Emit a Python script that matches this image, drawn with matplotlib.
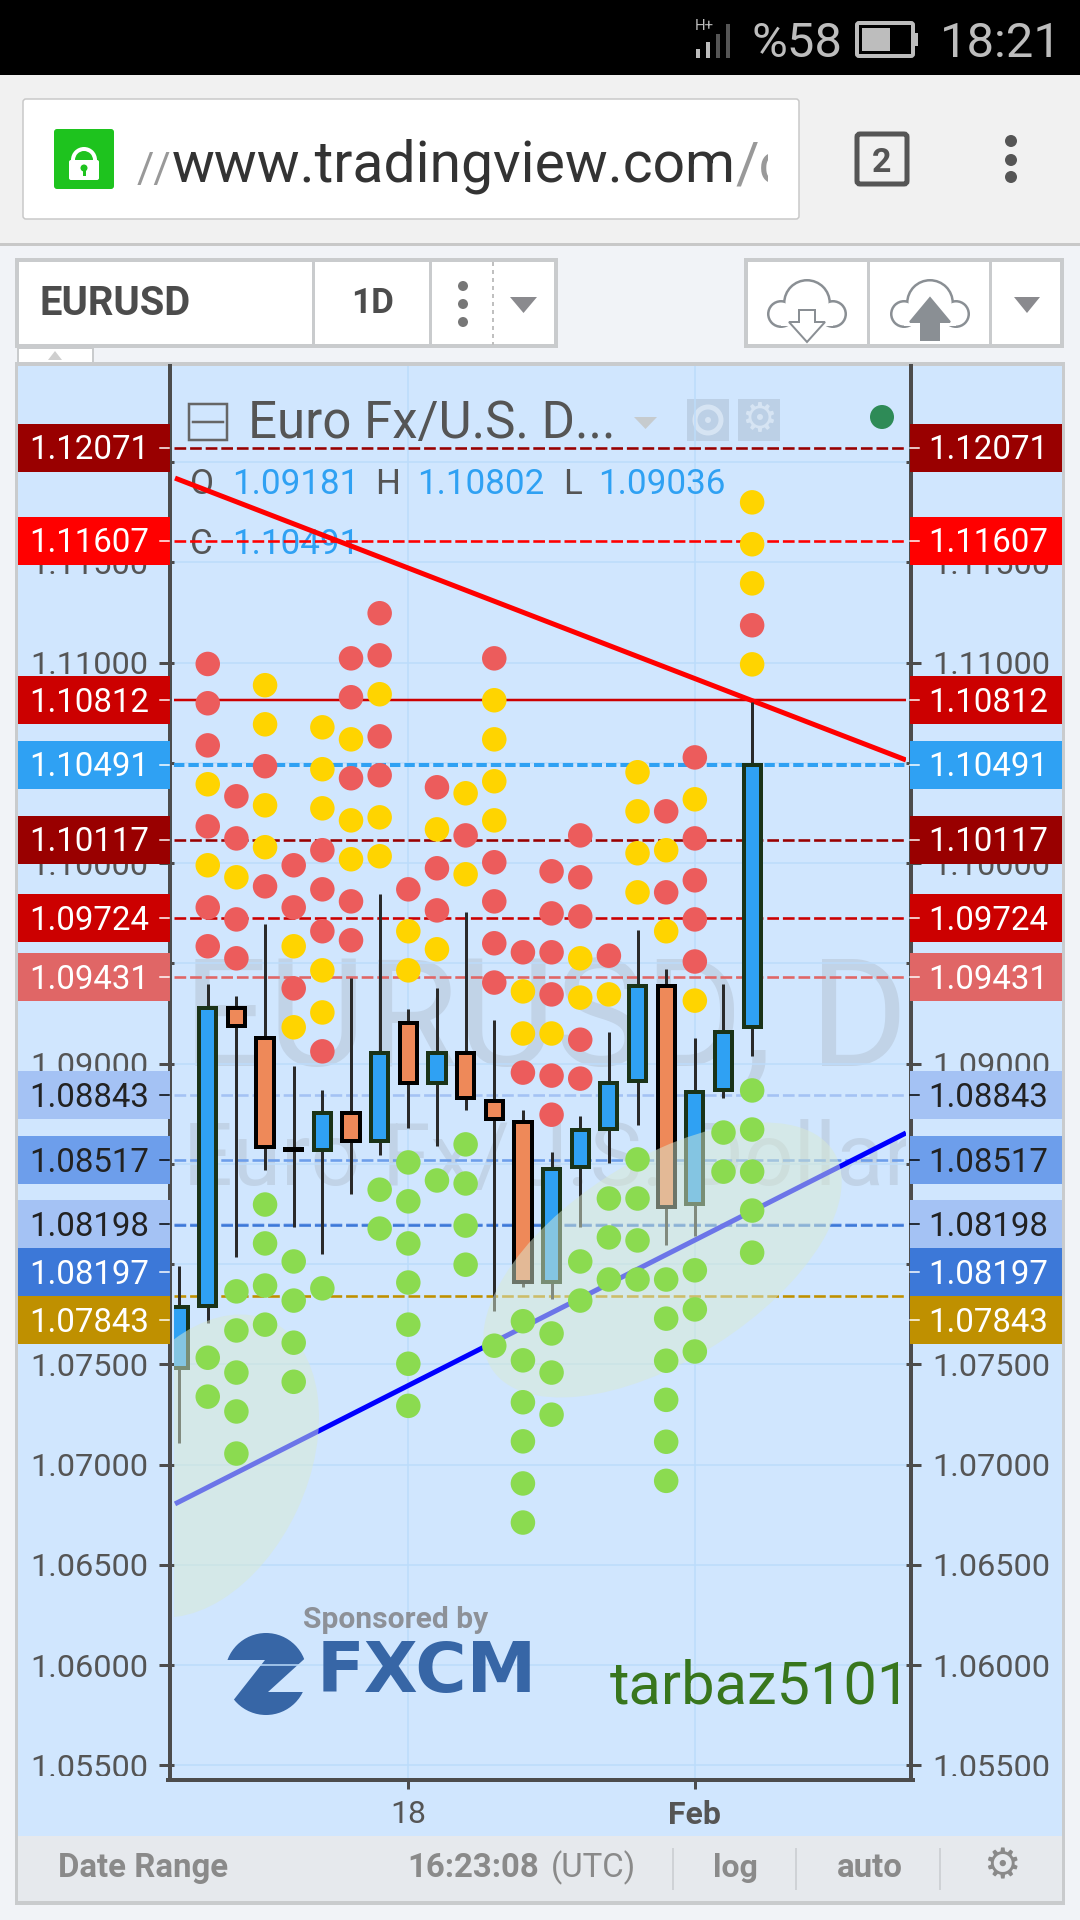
import matplotlib
matplotlib.use("Agg")
import matplotlib.pyplot as plt
from matplotlib.patches import Rectangle, Circle, Ellipse, Polygon, FancyBboxPatch, Wedge
from matplotlib.transforms import Bbox, IdentityTransform

# ---------- chart values ----------
bar_index = list(range(21))
opens  = [1.07482,1.07791,1.09277,1.09127,1.08576,1.08570,1.08755,1.08616,1.09203,1.08903,1.09055,
          1.08812,1.08708,1.07912,1.08483,1.08676,1.08914,1.09385,1.08302,1.08870,1.09181]
highs  = [1.07990,1.09395,1.09337,1.09696,1.08990,1.08870,1.09427,1.09846,1.09274,1.09379,1.09754,
          1.09217,1.08766,1.08559,1.08738,1.09158,1.09666,1.09472,1.09127,1.09395,1.10802]
lows   = [1.07108,1.07706,1.08035,1.08469,1.08185,1.08051,1.08349,1.08544,1.08679,1.08589,1.08768,
          1.07768,1.07887,1.07826,1.08186,1.08502,1.08694,1.08095,1.08140,1.08830,1.09036]
closes = [1.07786,1.09277,1.09185,1.08584,1.08571,1.08755,1.08616,1.09055,1.08903,1.09055,1.08826,
          1.08723,1.07912,1.08472,1.08667,1.08903,1.09385,1.08286,1.08860,1.09159,1.10491]

red_dots = [[],
 [1.10993,1.10797,1.10587,1.10183,1.09779,1.09585],[1.10333,1.10123,1.09719,1.09525],[1.10483,1.09884],
 [1.09989,1.09779,1.09375],[1.10064,1.09869,1.09660,1.09061],[1.11021,1.10827,1.10423,1.09809,1.09615],
 [1.11246,1.11036,1.10632,1.10438],[1.09869],[1.10378,1.09974,1.09764],[1.10138],
 [1.11021,1.10004,1.09809,1.09600,1.09404],[1.09555,1.08955],[1.09959,1.09749,1.09555,1.09345,1.08940,1.08745],
 [1.10138,1.09929,1.09734,1.09119,1.08925],[1.09538],[],[1.10258,1.09854],
 [1.10527,1.10123,1.09914,1.09719,1.09509],[],[1.11186]]
yellow_dots = [[],
 [1.10393,1.09989],[1.09929],[1.10887,1.10692,1.10288,1.10079],[1.09585,1.09181],
 [1.10677,1.10468,1.10273,1.09465,1.09255],[1.10617,1.10213,1.10019],[1.10842,1.10228,1.10034],
 [1.09660,1.09465],[1.10168,1.09570],[1.10348,1.09944],[1.10812,1.10617,1.10408,1.10213],
 [1.09360,1.09150],[1.09150],[1.09525,1.09329],[1.09345],[1.10453,1.10258,1.10049,1.09854],
 [1.10064,1.09660],[1.10318,1.09314],[],[1.11799,1.11590,1.11395,1.10991]]
green_dots = [[],
 [1.07533,1.07339],[1.07864,1.07669,1.07459,1.07265,1.07055],[1.08297,1.08103,1.07893,1.07698],
 [1.08013,1.07818,1.07608,1.07413],[1.07879],[],[1.08371,1.08177],
 [1.08507,1.08313,1.08103,1.07908,1.07698,1.07503,1.07293],[1.08417],[1.08597,1.08402,1.08192,1.07997],
 [1.07593],[1.07715,1.07520,1.07311,1.07116,1.06906,1.06711],[1.07654,1.07459,1.07249],[1.08013,1.07818],
 [1.08327,1.08133,1.07923],[1.08522,1.08327,1.08118,1.07923],[1.07923,1.07728,1.07518,1.07323,1.07114,1.06919],
 [1.07969,1.07774,1.07564],[1.08656,1.08461],[1.08866,1.08671,1.08461,1.08267,1.08057]]

level_prices = [1.12071,1.11607,1.10812,1.10491,1.10117,1.09724,1.09431,1.08843,1.08517,1.08198,1.08197,1.07843]
level_colors = ['#990000','#ff0000','#cc0000','#2fa1f3','#990000','#cc0000','#e06666','#a4c2f4','#6d9eeb','#a4c2f4','#3c78d8','#bf9000']
level_text   = ['white','white','white','white','white','white','white','#222222','#222222','#222222','white','white']

red_trend_x, red_trend_y = [-0.143, 25.37], [1.11920, 1.10514]
blue_trend_x, blue_trend_y = [-0.143, 25.37], [1.06804, 1.08654]

price_ticks = [1.055,1.06,1.065,1.07,1.075,1.08,1.085,1.09,1.095,1.10,1.105,1.11,1.115,1.12]
covered_ticks = [1.08,1.085,1.105,1.12]
date_ticks, date_labels = [8, 18], ['18', 'Feb']

# ---------- helpers ----------
W, H = 1080, 1920
plt.rcParams['font.family'] = ['Roboto', 'DejaVu Sans']
fig = plt.figure(figsize=(10.8, 19.2), dpi=100, facecolor='#f1f3f7')
PT = 0.72
GREY = '#555555'

def px_axes(z):
    a = fig.add_axes([0, 0, 1, 1], zorder=z)
    a.set_xlim(0, W); a.set_ylim(H, 0); a.axis('off')
    return a

back = px_axes(0)
top = px_axes(3)

def rect(a, x0, y0, x1, y1, fc, ec='none', lw=0, z=1):
    a.add_patch(Rectangle((x0, y0), x1-x0, y1-y0, fc=fc, ec=ec, lw=lw*PT, zorder=z))

def rrect(a, x0, y0, x1, y1, fc, ec='none', lw=0, r=4, z=1):
    a.add_patch(FancyBboxPatch((x0+r, y0+r), x1-x0-2*r, y1-y0-2*r, boxstyle=f"round,pad={r}",
                               fc=fc, ec=ec, lw=lw*PT, zorder=z))

def txt(a, x, y, s, px, c=GREY, ha='left', w='normal', z=5, **k):
    return a.text(x, y, s, fontsize=px*PT, color=c, ha=ha, va='baseline', fontweight=w, zorder=z, **k)

# ---------- page chrome ----------
rect(back, 0, 0, W, 75, '#000000')
rect(back, 0, 75, W, 243, '#f1f1f1')
rect(back, 0, 243, W, 246, '#c8c8c8')
txt(back, 751, 57, '%58', 49, '#bdbdbd')
txt(back, 940, 57, '18:21', 49, '#bdbdbd')
txt(back, 695, 30, 'H+', 15, '#bdbdbd')
for i, (x, y0) in enumerate(zip([696, 706, 716, 726], [49, 42, 34, 24])):
    rect(back, x, y0, x+4, 58, '#bdbdbd' if i < 2 else '#555555')
rrect(back, 857, 23, 913, 56, 'none', '#bdbdbd', 4, r=2)
rect(back, 862, 28, 890, 51, '#bdbdbd')
rect(back, 914, 33, 918, 46, '#bdbdbd')

rrect(back, 23, 99, 799, 219, 'white', '#c8c8c8', 1.5, r=3)
rrect(back, 54, 129, 114, 189, '#1ec31e', r=3)
rrect(back, 69, 160, 99, 180, 'white', r=2)
back.add_patch(Wedge((84, 160), 13, 180, 360, width=4, fc='white', ec='none', zorder=2))
back.add_patch(Circle((84, 168), 3.5, fc='#1ec31e', zorder=3))
rect(back, 82.5, 168, 85.5, 176, '#1ec31e', z=3)
clip_url = Bbox([[130, H-240], [768, H-90]])
t1 = txt(back, 137, 182, '//', 42, '#999999')
t2 = txt(back, 172, 182, 'www.tradingview.com', 57, '#333333')
t3 = txt(back, 735, 182, '/c', 57, '#999999')
t3.set_clip_box(clip_url); t3.set_clip_on(True)
rrect(back, 857, 134, 907, 184, 'none', '#555555', 5, r=3)
txt(back, 882, 172, '2', 34, '#555555', ha='center', w='bold')
for y in (141, 160, 177):
    back.add_patch(Circle((1011, y), 6, fc='#555555'))

# toolbar
rect(back, 17, 260, 556, 346, 'white', '#c9cbcd', 4)
rect(back, 746, 260, 1062, 346, 'white', '#c9cbcd', 4)
for x in (313, 430, 868, 990):
    rect(back, x-1.5, 258, x+1.5, 348, '#c9cbcd')
txt(back, 40, 315, 'EURUSD', 40, '#4c4c4c', w='bold')
txt(back, 351, 313, '1D', 35, '#4c4c4c', w='bold')
for y in (286, 304, 322):
    back.add_patch(Circle((463, y), 5, fc='#777777'))
back.plot([493, 493], [262, 345], color='#c0c0c0', lw=2*PT, ls=(0, (2, 2)))
for x0, x1 in ((510, 537), (1014, 1040)):
    back.add_patch(Polygon([(x0, 297), (x1, 297), ((x0+x1)/2, 313)], fc='#8a8a8e'))
for cx, fill in ((807, False), (930, True)):
    for (dx, dy, r) in ((0, 303, 24), (-26, 314, 14), (26, 314, 14)):
        back.add_patch(Circle((cx+dx, dy), r, fc='#8a8f94', zorder=2))
    for (dx, dy, r) in ((0, 303, 21.5), (-26, 314, 11.5), (26, 314, 11.5)):
        back.add_patch(Circle((cx+dx, dy), r, fc='white', zorder=3))
    rect(back, cx-26, 310, cx+26, 325.5, 'white', z=3)
    pts = [(cx-8, 310), (cx+8, 310), (cx+8, 322), (cx+18, 322), (cx, 342), (cx-18, 322), (cx-8, 322)]
    if fill:
        pts = [(cx-9, 340), (cx+9, 340), (cx+9, 322), (cx+20, 322), (cx, 298), (cx-20, 322), (cx-9, 322)]
    back.add_patch(Polygon(pts, fc='#8a8f94' if fill else 'white', ec='#8a8f94', lw=2*PT, zorder=4))
rect(back, 18, 348, 93, 363, 'white', '#c9cbcd', 2)
back.add_patch(Polygon([(48, 360), (62, 360), (55, 351)], fc='#cfcfcf', zorder=3))

# chart panel
rect(back, 15, 362, 1065, 1905, '#c9cbcd')
rect(back, 18, 366, 1062, 1836, '#d0e6fe')
rect(back, 18, 1836, 1062, 1901, '#e6e9ed')
txt(back, 58, 1877, 'Date Range', 33, '#8a8a8a', w='bold')
txt(back, 407, 1877, '16:23:08', 33, '#8a8a8a', w='bold')
txt(back, 551, 1877, '(UTC)', 33, '#8a8a8a')
txt(back, 713, 1877, 'log', 32, '#8a8a8a', w='bold')
txt(back, 837, 1877, 'auto', 33, '#8a8a8a', w='bold')
for x in (673, 796, 940):
    rect(back, x-1, 1848, x+1, 1890, '#cfd2d6')
back.text(1002, 1866, '\u2699', fontsize=42*PT, color='#8a8a8a', ha='center', va='center', family='DejaVu Sans')

# ---------- price chart ----------
AX_L, AX_R, AX_T, AX_B = 174, 906, 366, 1778
ax = fig.add_axes([AX_L/W, 1-AX_B/H, (AX_R-AX_L)/W, (AX_B-AX_T)/H], zorder=1)
ax.patch.set_visible(False)
for s in ax.spines.values():
    s.set_visible(False)
ax.set_autoscale_on(False)
ax.set_xlim(-0.178, 25.37)
ax.set_ylim(1.05437, 1.12479)
ax.set_xticks(date_ticks, date_labels)
ax.set_yticks(price_ticks, ['' if p in covered_ticks else f'{p:.5f}' for p in price_ticks])
ax.grid(True, color='#bcdcfb', lw=1.5*PT, zorder=0)
ax.set_axisbelow(True)
ax.tick_params(axis='y', which='major', left=True, right=True, labelleft=True, labelright=True,
               length=15*PT, width=3*PT, color='#4c4c4c', labelsize=32.5*PT, labelcolor=GREY, pad=11*PT)
ax.tick_params(axis='x', length=11*PT, width=3*PT, color='#4c4c4c', labelsize=32*PT, labelcolor=GREY, pad=11*PT)
ax.get_xticklabels()[1].set_fontweight('bold')
clip_ticks = Bbox([[0, H-1776], [W, H]])
for lab in ax.get_yticklabels() + [t.label2 for t in ax.yaxis.get_major_ticks()]:
    lab.set_clip_box(clip_ticks); lab.set_clip_on(True)

# watermark and legend text, placed behind the marks
wm = '#c1d3e7'
ax.text(183, 1065, 'EURUSD, D', transform=back.transData, fontsize=150*PT, color=wm, va='baseline',
        zorder=0.5, clip_on=True)
ax.text(183, 1185, 'Euro Fx/U.S. Dollar', transform=back.transData, fontsize=87.5*PT, color=wm, va='baseline',
        zorder=0.5, clip_on=True)
for x, y, s, c in ((248, 438, 'Euro Fx/U.S. D...', GREY), (190, 494, 'O', GREY), (232, 494, '1.09181', '#2fa1f3'),
                   (375, 494, 'H', GREY), (417, 494, '1.10802', '#2fa1f3'), (563, 494, 'L', GREY),
                   (598, 494, '1.09036', '#2fa1f3'), (190, 554, 'C', GREY), (232, 554, '1.10491', '#2fa1f3')):
    ax.text(x, y, s, transform=back.transData, fontsize=(51 if y == 438 else 35)*PT, color=c, va='baseline',
            zorder=1.2, fontweight='normal')
back.add_patch(Rectangle((189, 404), 38, 36, fc='none', ec='#666666', lw=2.5*PT, zorder=3))
back.plot([193, 223], [422, 422], color='#666666', lw=2.5*PT, zorder=3)
back.add_patch(Polygon([(634, 417), (657, 417), (645.5, 429)], fc='#c6cbce', zorder=3))
rect(back, 687, 399, 729, 441, '#bcd0e6', z=3)
back.add_patch(Circle((708, 420), 13, fc='none', ec='#d6e4f3', lw=5*PT, zorder=4))
back.add_patch(Circle((708, 420), 3, fc='#d6e4f3', zorder=4))
rect(back, 738, 399, 780, 441, '#bcd0e6', z=3)
back.text(759, 420, '\u2699', fontsize=40*PT, color='#d6e4f3', ha='center', va='center', family='DejaVu Sans', zorder=4)
back.add_patch(Circle((882, 417), 12, fc='#2e8b57', zorder=3))

# sponsor block
blue_logo = '#3766a6'
ax.text(303, 1628, 'Sponsored by', transform=back.transData, fontsize=30*PT, color='#8d9198', fontweight='bold', zorder=1.1)
ax.text(317, 1692, 'FXCM', transform=back.transData, fontsize=70*PT, color=blue_logo, fontweight='bold',
        family='DejaVu Sans', zorder=1.1)
back.add_patch(Circle((266, 1674), 41, fc=blue_logo, zorder=2))
back.add_patch(Polygon([(222, 1660), (265, 1660), (232, 1702), (222, 1702)], fc='#d0e6fe', zorder=3))
back.add_patch(Polygon([(312, 1652), (268, 1692), (312, 1692)], fc='#d0e6fe', zorder=3))
ax.text(610, 1704, 'tarbaz5101', transform=back.transData, fontsize=59.5*PT, color='#38761d', zorder=1.1)

# horizontal levels
for p, c in zip(level_prices, level_colors):
    if p == 1.10812:
        ax.axhline(p, color=c, lw=2.5*PT, zorder=2)
    elif p == 1.10491:
        ax.axhline(p, color=c, lw=4*PT, ls=(0, (2.6, 1.0)), zorder=2)
    else:
        ax.axhline(p, color=c, lw=2.6*PT, ls=(0, (4.5, 1.5)), zorder=2)

# trend lines
ax.plot(red_trend_x, red_trend_y, color='#ff0000', lw=5*PT, zorder=3, solid_capstyle='butt')
ax.plot(blue_trend_x, blue_trend_y, color='#0000ff', lw=5*PT, zorder=3, solid_capstyle='butt')

# candles
ax.vlines(bar_index, lows, highs, color='#2a2a2a', lw=3*PT, zorder=4)
for i, o, c in zip(bar_index, opens, closes):
    up = c > o and i != 4
    ax.bar(i, abs(c-o), bottom=min(o, c), width=0.6, color='#2fa1f3' if up else '#ee8959',
           edgecolor='#1a3318' if up else '#000000', lw=4*PT, zorder=4.5)

# shaded ellipses (screen-space drawing tools)
ax.add_patch(Ellipse((203, H-1466), 320, 208, angle=65, fc='#d9ead3', alpha=0.5, ec='none',
                     transform=IdentityTransform(), zorder=5))
ax.add_patch(Ellipse((662.5, H-1260), 405, 200, angle=32.4, fc='#d9ead3', alpha=0.5, ec='none',
                     transform=IdentityTransform(), zorder=5))

# dots
for dots, col in ((red_dots, '#ec5c5c'), (yellow_dots, '#ffd400'), (green_dots, '#8bdb50')):
    xs = [i for i, d in enumerate(dots) for _ in d]
    ys = [v for d in dots for v in d]
    ax.scatter(xs, ys, s=(24.5*PT)**2, color=col, edgecolors='none', zorder=6, clip_on=True)

# price tags
prev = -100
for p, c, tc in sorted(zip(level_prices, level_colors, level_text), key=lambda r: -r[0]):
    yl = H - ax.transData.transform((0, p))[1]
    yc = max(yl, prev + 48)
    prev = yc
    for x0, x1, xt, sx in ((18, 170, 89.5, (160, 169)), (910, 1062, 988.5, (910, 919))):
        rect(top, x0, yc-24, x1, yc+24, c)
        txt(top, xt, yc+11.5, f'{p:.5f}', 33, tc, ha='center')
        top.plot(sx, [yc, yc], color='black' if tc != 'white' else 'white', lw=1.5*PT, zorder=6)

# frame
top.plot([169.5, 169.5], [366, 1780], color='#4c4c4c', lw=4*PT, zorder=0.5)
top.plot([911, 911], [366, 1780], color='#4c4c4c', lw=4*PT, zorder=0.5)
top.plot([168, 912.5], [1780, 1780], color='#4c4c4c', lw=4*PT, zorder=0.5)

fig.savefig('out.png', dpi=100, facecolor=fig.get_facecolor())
